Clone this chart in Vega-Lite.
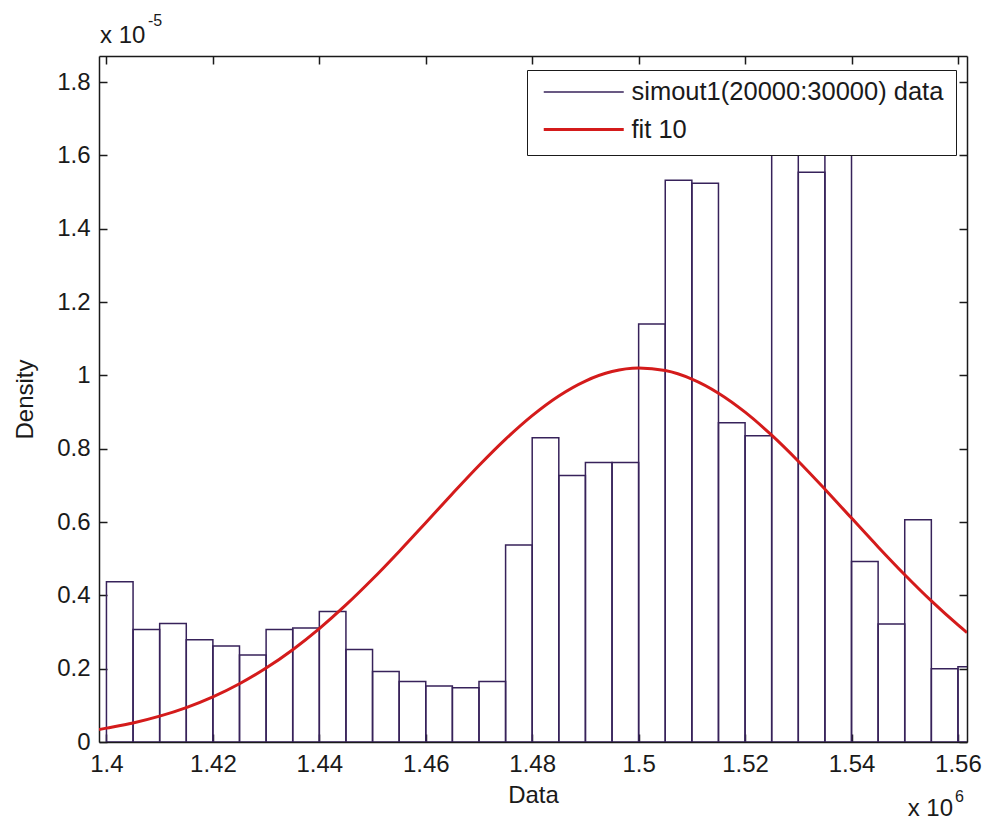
{
  "$schema": "https://vega.github.io/schema/vega-lite/v6.json",
  "width": 868,
  "height": 686,
  "autosize": "none",
  "padding": {"left": 99, "top": 56, "right": 17, "bottom": 81},
  "background": "white",
  "config": {
    "view": {"stroke": null},
    "font": "Liberation Sans",
    "axis": {
      "labelFont": "Liberation Sans",
      "labelFontSize": 24,
      "labelColor": "#1a1a1a",
      "titleFont": "Liberation Sans",
      "titleFontSize": 24,
      "titleFontWeight": "normal",
      "titleColor": "#1a1a1a",
      "domainColor": "#1a1a1a",
      "domainWidth": 1.5,
      "tickColor": "#1a1a1a",
      "tickWidth": 1.5,
      "tickSize": -8,
      "grid": false,
      "labelFlush": false,
      "labelOverlap": false
    }
  },
  "datasets": {
    "bins": [
      {"start": 1.400, "end": 1.405, "density": 0.437, "series": "simout1(20000:30000) data"},
      {"start": 1.405, "end": 1.410, "density": 0.307, "series": "simout1(20000:30000) data"},
      {"start": 1.410, "end": 1.415, "density": 0.323, "series": "simout1(20000:30000) data"},
      {"start": 1.415, "end": 1.420, "density": 0.279, "series": "simout1(20000:30000) data"},
      {"start": 1.420, "end": 1.425, "density": 0.262, "series": "simout1(20000:30000) data"},
      {"start": 1.425, "end": 1.430, "density": 0.237, "series": "simout1(20000:30000) data"},
      {"start": 1.430, "end": 1.435, "density": 0.307, "series": "simout1(20000:30000) data"},
      {"start": 1.435, "end": 1.440, "density": 0.311, "series": "simout1(20000:30000) data"},
      {"start": 1.440, "end": 1.445, "density": 0.356, "series": "simout1(20000:30000) data"},
      {"start": 1.445, "end": 1.450, "density": 0.252, "series": "simout1(20000:30000) data"},
      {"start": 1.450, "end": 1.455, "density": 0.192, "series": "simout1(20000:30000) data"},
      {"start": 1.455, "end": 1.460, "density": 0.165, "series": "simout1(20000:30000) data"},
      {"start": 1.460, "end": 1.465, "density": 0.153, "series": "simout1(20000:30000) data"},
      {"start": 1.465, "end": 1.470, "density": 0.148, "series": "simout1(20000:30000) data"},
      {"start": 1.470, "end": 1.475, "density": 0.165, "series": "simout1(20000:30000) data"},
      {"start": 1.475, "end": 1.480, "density": 0.537, "series": "simout1(20000:30000) data"},
      {"start": 1.480, "end": 1.485, "density": 0.830, "series": "simout1(20000:30000) data"},
      {"start": 1.485, "end": 1.490, "density": 0.727, "series": "simout1(20000:30000) data"},
      {"start": 1.490, "end": 1.495, "density": 0.762, "series": "simout1(20000:30000) data"},
      {"start": 1.495, "end": 1.500, "density": 0.762, "series": "simout1(20000:30000) data"},
      {"start": 1.500, "end": 1.505, "density": 1.140, "series": "simout1(20000:30000) data"},
      {"start": 1.505, "end": 1.510, "density": 1.532, "series": "simout1(20000:30000) data"},
      {"start": 1.510, "end": 1.515, "density": 1.524, "series": "simout1(20000:30000) data"},
      {"start": 1.515, "end": 1.520, "density": 0.871, "series": "simout1(20000:30000) data"},
      {"start": 1.520, "end": 1.525, "density": 0.835, "series": "simout1(20000:30000) data"},
      {"start": 1.525, "end": 1.530, "density": 1.720, "series": "simout1(20000:30000) data"},
      {"start": 1.530, "end": 1.535, "density": 1.554, "series": "simout1(20000:30000) data"},
      {"start": 1.535, "end": 1.540, "density": 1.720, "series": "simout1(20000:30000) data"},
      {"start": 1.540, "end": 1.545, "density": 0.492, "series": "simout1(20000:30000) data"},
      {"start": 1.545, "end": 1.550, "density": 0.322, "series": "simout1(20000:30000) data"},
      {"start": 1.550, "end": 1.555, "density": 0.606, "series": "simout1(20000:30000) data"},
      {"start": 1.555, "end": 1.560, "density": 0.200, "series": "simout1(20000:30000) data"},
      {"start": 1.560, "end": 1.565, "density": 0.205, "series": "simout1(20000:30000) data"}
    ],
    "fit": [
      {"x": 1.3986, "density": 0.0340, "series": "fit 10"},
      {"x": 1.400, "density": 0.0378, "series": "fit 10"},
      {"x": 1.405, "density": 0.0520, "series": "fit 10"},
      {"x": 1.410, "density": 0.0705, "series": "fit 10"},
      {"x": 1.415, "density": 0.0939, "series": "fit 10"},
      {"x": 1.420, "density": 0.1231, "series": "fit 10"},
      {"x": 1.425, "density": 0.1589, "series": "fit 10"},
      {"x": 1.430, "density": 0.2017, "series": "fit 10"},
      {"x": 1.435, "density": 0.2518, "series": "fit 10"},
      {"x": 1.440, "density": 0.3093, "series": "fit 10"},
      {"x": 1.445, "density": 0.3738, "series": "fit 10"},
      {"x": 1.450, "density": 0.4444, "series": "fit 10"},
      {"x": 1.455, "density": 0.5198, "series": "fit 10"},
      {"x": 1.460, "density": 0.5981, "series": "fit 10"},
      {"x": 1.465, "density": 0.6770, "series": "fit 10"},
      {"x": 1.470, "density": 0.7540, "series": "fit 10"},
      {"x": 1.475, "density": 0.8260, "series": "fit 10"},
      {"x": 1.480, "density": 0.8902, "series": "fit 10"},
      {"x": 1.485, "density": 0.9439, "series": "fit 10"},
      {"x": 1.490, "density": 0.9845, "series": "fit 10"},
      {"x": 1.495, "density": 1.0103, "series": "fit 10"},
      {"x": 1.500, "density": 1.0199, "series": "fit 10"},
      {"x": 1.505, "density": 1.0130, "series": "fit 10"},
      {"x": 1.510, "density": 0.9897, "series": "fit 10"},
      {"x": 1.515, "density": 0.9513, "series": "fit 10"},
      {"x": 1.520, "density": 0.8996, "series": "fit 10"},
      {"x": 1.525, "density": 0.8369, "series": "fit 10"},
      {"x": 1.530, "density": 0.7659, "series": "fit 10"},
      {"x": 1.535, "density": 0.6896, "series": "fit 10"},
      {"x": 1.540, "density": 0.6107, "series": "fit 10"},
      {"x": 1.545, "density": 0.5321, "series": "fit 10"},
      {"x": 1.550, "density": 0.4562, "series": "fit 10"},
      {"x": 1.555, "density": 0.3847, "series": "fit 10"},
      {"x": 1.560, "density": 0.3192, "series": "fit 10"},
      {"x": 1.5617, "density": 0.2984, "series": "fit 10"}
    ]
  },
  "layer": [
    {
      "data": {"name": "bins"},
      "mark": {"type": "rect", "filled": false, "strokeWidth": 1.5, "clip": true},
      "encoding": {
        "x": {
          "field": "start", "type": "quantitative",
          "scale": {"domain": [1.3986, 1.5617], "nice": false, "zero": false},
          "axis": {"orient": "bottom", "values": [1.4, 1.42, 1.44, 1.46, 1.48, 1.5, 1.52, 1.54, 1.56], "format": "~g", "title": "Data", "labelPadding": 18, "titlePadding": 7}
        },
        "x2": {"field": "end"},
        "y": {
          "field": "density", "type": "quantitative",
          "scale": {"domain": [0, 1.871], "nice": false, "zero": true},
          "axis": {"orient": "left", "values": [0, 0.2, 0.4, 0.6, 0.8, 1, 1.2, 1.4, 1.6, 1.8], "format": "~g", "title": "Density", "labelPadding": 17, "titlePadding": 19}
        },
        "y2": {"datum": 0},
        "color": {
          "field": "series", "type": "nominal",
          "scale": {"domain": ["simout1(20000:30000) data", "fit 10"], "range": ["#37225a", "#d41b1b"]},
          "legend": {
            "title": null,
            "orient": "none", "legendX": 428, "legendY": 14,
            "labelFont": "Liberation Sans", "labelFontSize": 25.5, "labelColor": "#1a1a1a", "labelLimit": 600,
            "fillColor": "white", "strokeColor": "#1a1a1a",
            "padding": 12, "rowPadding": 11.5, "symbolOffset": 0, "labelOffset": 67,
            "symbolSize": 100, "symbolType": "M-1.6,0H14.4", "clipHeight": 20,
            "encode": {
              "symbols": {
                "update": {
                  "stroke": {"scale": "color", "field": "value"},
                  "strokeWidth": {"signal": "datum.value === 'fit 10' ? 3 : 1.5"},
                  "fill": {"value": "transparent"},
                  "opacity": {"value": 1}
                }
              }
            }
          }
        }
      }
    },
    {
      "data": {"name": "fit"},
      "mark": {"type": "line", "strokeWidth": 3, "interpolate": "monotone", "clip": true},
      "encoding": {
        "x": {"field": "x", "type": "quantitative", "axis": {"orient": "top", "values": [1.4, 1.42, 1.44, 1.46, 1.48, 1.5, 1.52, 1.54, 1.56], "labels": false, "title": null}},
        "y": {"field": "density", "type": "quantitative", "axis": {"orient": "right", "values": [0, 0.2, 0.4, 0.6, 0.8, 1, 1.2, 1.4, 1.6, 1.8], "labels": false, "title": null}},
        "color": {"field": "series", "type": "nominal"}
      }
    },
    {
      "data": {"values": [{}]},
      "mark": {"type": "text", "align": "left", "baseline": "alphabetic", "dx": 1, "dy": -13, "fontSize": 24, "font": "Liberation Sans", "color": "#1a1a1a"},
      "encoding": {
        "x": {"datum": 1.3986, "type": "quantitative", "axis": null},
        "y": {"datum": 1.871, "type": "quantitative", "axis": null},
        "text": {"value": "x 10"}
      }
    },
    {
      "data": {"values": [{}]},
      "mark": {"type": "text", "align": "left", "baseline": "alphabetic", "dx": 49, "dy": -30, "fontSize": 16, "font": "Liberation Sans", "color": "#1a1a1a"},
      "encoding": {
        "x": {"datum": 1.3986, "type": "quantitative", "axis": null},
        "y": {"datum": 1.871, "type": "quantitative", "axis": null},
        "text": {"value": "-5"}
      }
    },
    {
      "data": {"values": [{}]},
      "mark": {"type": "text", "align": "right", "baseline": "alphabetic", "dx": -14, "dy": 74, "fontSize": 24, "font": "Liberation Sans", "color": "#1a1a1a"},
      "encoding": {
        "x": {"datum": 1.5617, "type": "quantitative", "axis": null},
        "y": {"datum": 0, "type": "quantitative", "axis": null},
        "text": {"value": "x 10"}
      }
    },
    {
      "data": {"values": [{}]},
      "mark": {"type": "text", "align": "left", "baseline": "alphabetic", "dx": -12, "dy": 60, "fontSize": 16, "font": "Liberation Sans", "color": "#1a1a1a"},
      "encoding": {
        "x": {"datum": 1.5617, "type": "quantitative", "axis": null},
        "y": {"datum": 0, "type": "quantitative", "axis": null},
        "text": {"value": "6"}
      }
    }
  ],
  "resolve": {"axis": {"x": "independent", "y": "independent"}}
}
